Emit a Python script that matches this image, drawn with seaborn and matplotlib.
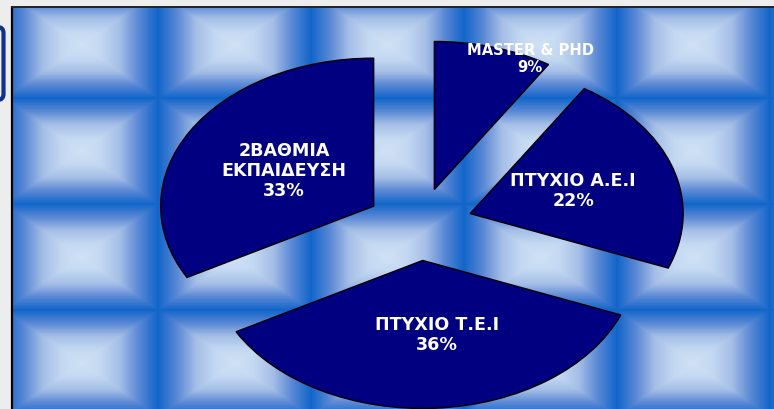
import numpy as np
import matplotlib
matplotlib.use("Agg")
import matplotlib.pyplot as plt
from matplotlib.patches import FancyBboxPatch
import seaborn as sns

# Education levels, clockwise from twelve o'clock
categories = ["MASTER & PHD", "ΠΤΥΧΙΟ Α.Ε.Ι", "ΠΤΥΧΙΟ Τ.Ε.Ι", "2ΒΑΘΜΙΑ\nΕΚΠΑΙΔΕΥΣΗ"]
shares = [9, 22, 36, 33]
offsets = [0.25, 0.25, 0.24, 0.25]
label_sizes = [10.6, 12.6, 12.6, 12.6]
label_px = [(530, 59), (573, 191), (437, 335), (284, 171)]

W, H = 774, 409
sns.set_theme(style="white")
plt.rcParams["font.family"] = ["DejaVu Sans"]

fig = plt.figure(figsize=(W / 100, H / 100), dpi=100, facecolor="#ecedec")

# Quilted blue backdrop inside the slide frame
FRAME_L, FRAME_T = 12, 7
bg = fig.add_axes([FRAME_L / W, 0, (W - FRAME_L) / W, (H - FRAME_T) / H])
xs = np.arange(FRAME_L, W, 1) + 0.5
ys = np.arange(FRAME_T, H, 1) + 0.5
u = ((xs - 5) / 153) % 1
v = ((ys + 8) / 106) % 1
tile = np.maximum.outer(np.abs(2 * v - 1), np.abs(2 * u - 1))
ramp = sns.blend_palette(["#cfe1f5", "#c3d8f1", "#a5bee6", "#5a88d5", "#1165c9"], as_cmap=True)
sns.heatmap(tile, ax=bg, cmap=ramp, vmin=0, vmax=1, cbar=False,
            xticklabels=False, yticklabels=False, rasterized=True)
bg.set_axis_off()

# Exploded pie stretched to an ellipse over the full figure
RX, RY, CX, CY = 213, 148, 419.5, 225
ax = fig.add_axes([0, 0, 1, 1])
ax.pie(shares, explode=offsets, startangle=90, counterclock=False,
       colors=["#000080"] * 4, wedgeprops=dict(edgecolor="black", linewidth=1.0))
ax.set_aspect("auto")
ax.set_xlim(-CX / RX, (W - CX) / RX)
ax.set_ylim(-(H - CY) / RY, CY / RY)
ax.patch.set_alpha(0)

for name, val, size, (px, py) in zip(categories, shares, label_sizes, label_px):
    ax.text((px - CX) / RX, (CY - py) / RY, f"{name}\n{val}%", color="white", fontsize=size,
            fontweight="bold", ha="center", va="center", linespacing=1.12)

# Slide frame and the sliver of the neighbouring panel
fig.add_artist(plt.Line2D([FRAME_L / W, FRAME_L / W], [0, 1 - FRAME_T / H], color="black", lw=1.6))
fig.add_artist(plt.Line2D([FRAME_L / W, 1], [1 - FRAME_T / H] * 2, color="#222222", lw=1.4))
fig.add_artist(FancyBboxPatch((-14, H - 100), 17.5, 73, boxstyle="round,pad=0,rounding_size=6",
                              transform=None, facecolor="#eef0f2", edgecolor="#12318f", linewidth=3))
fig.savefig("out.png", dpi=100)
